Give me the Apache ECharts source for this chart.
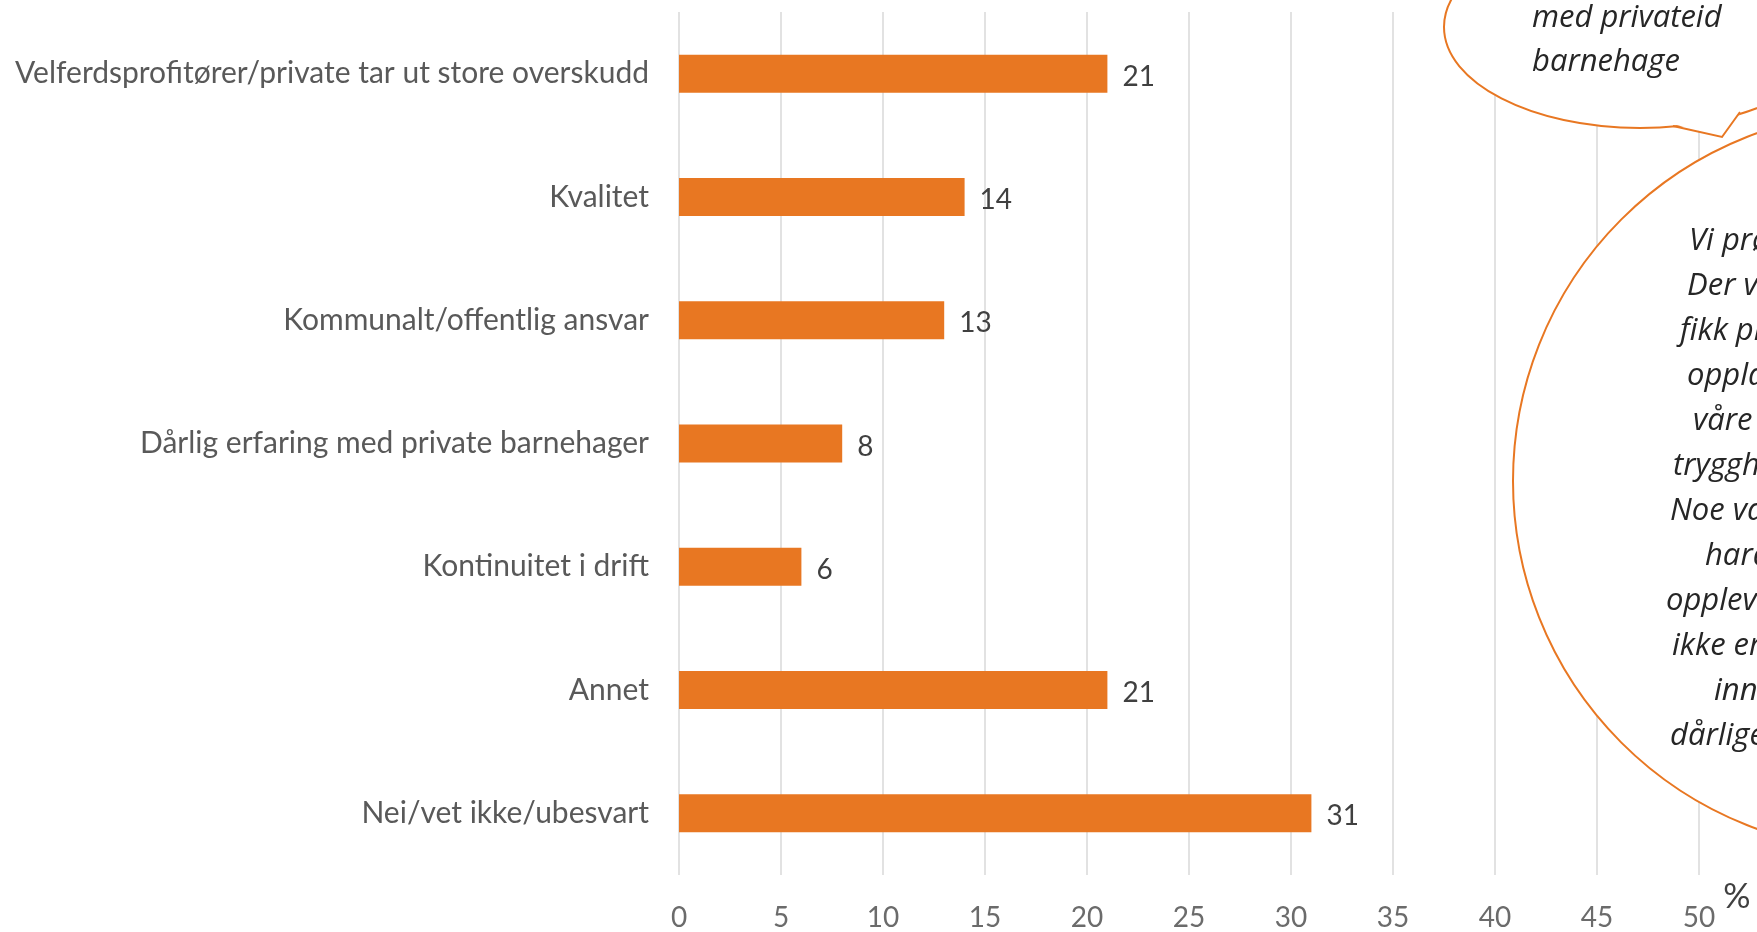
<!DOCTYPE html>
<html>
<head>
<meta charset="utf-8">
<script src="https://cdn.jsdelivr.net/npm/echarts@6/dist/echarts.min.js"></script>
<style>
  html, body { margin: 0; padding: 0; background: #fff; }
  #chart { width: 1757px; height: 932px; }
</style>
</head>
<body>
<div id="chart"></div>
<script>
// data
const categories = [
  'Velferdsprofitører/private tar ut store overskudd',
  'Kvalitet',
  'Kommunalt/offentlig ansvar',
  'Dårlig erfaring med private barnehager',
  'Kontinuitet i drift',
  'Annet',
  'Nei/vet ikke/ubesvart'
];
const values = [21, 14, 13, 8, 6, 21, 31];
const axisMax = 50;
const axisStep = 5;
const unitLabel = '%';

// callout texts (cut off by the edge of the picture)
const topBubbleLines = ['med privateid', 'barnehage'];
const bigBubbleLines = [
  'Vi prøvde privat', 'Der var det', 'fikk plass', 'opplæring', 'våre barn',
  'trygghet', 'Noe var', 'hardt', 'opplevd', 'ikke er', 'innom', 'dårlige'
];

const orange = '#E87722';
const font = 'Lato';
const bubbleFont = '"Open Sans"';

const chart = echarts.init(document.getElementById('chart'));

// bubble graphics
const bubbleText = (text, x, baseline) => ({
  type: 'text',
  x: x,
  y: baseline - 10,
  style: {
    text: text,
    fill: '#262626',
    fontFamily: bubbleFont,
    fontStyle: 'italic',
    fontSize: 31,
    textAlign: 'left',
    textVerticalAlign: 'middle'
  }
});

const bigStarts = [1689, 1687, 1680, 1687, 1693, 1673, 1670, 1705, 1666, 1672, 1714, 1670];

const graphics = [
  {
    type: 'ellipse',
    shape: {cx: 1640, cy: 27, rx: 196, ry: 101},
    style: {fill: '#fff', stroke: orange, lineWidth: 2}
  },
  {
    type: 'polygon',
    shape: {points: [[1673, 124], [1722, 137], [1741, 112], [1741, 106], [1700, 118], [1673, 121]]},
    style: {fill: '#fff'}
  },
  {
    type: 'polyline',
    shape: {points: [[1673, 126], [1722, 137], [1740, 112]]},
    style: {fill: null, stroke: orange, lineWidth: 2}
  },
  {
    type: 'circle',
    shape: {cx: 1883, cy: 481, r: 370},
    style: {fill: '#fff', stroke: orange, lineWidth: 2}
  }
];
topBubbleLines.forEach((t, i) => graphics.push(bubbleText(t, 1532, 28 + i * 44)));
bigBubbleLines.forEach((t, i) => graphics.push(bubbleText(t, bigStarts[i], 251 + i * 45)));
graphics.push({
  type: 'text',
  x: 1737,
  y: 897,
  style: {
    text: unitLabel,
    fill: '#404040',
    fontFamily: font,
    fontSize: 34,
    textAlign: 'center',
    textVerticalAlign: 'middle'
  }
});
graphics.forEach(g => { g.z = 100; });

chart.setOption({
  animation: false,
  textStyle: {fontFamily: font},
  grid: {left: 679, right: 58, top: 12, bottom: 52, containLabel: false},
  xAxis: {
    type: 'value',
    min: 0,
    max: axisMax,
    interval: axisStep,
    axisLine: {show: false},
    axisTick: {show: false},
    splitLine: {show: true, lineStyle: {color: '#d9d9d9', width: 1.5}},
    axisLabel: {color: '#6b6b6b', fontSize: 28, margin: 29, fontFamily: font}
  },
  yAxis: {
    type: 'category',
    data: categories,
    inverse: true,
    axisLine: {show: false},
    axisTick: {show: false},
    axisLabel: {color: '#595959', fontSize: 30, margin: 30, fontFamily: font}
  },
  series: [{
    type: 'bar',
    data: values,
    barWidth: 38,
    itemStyle: {color: orange},
    label: {
      show: true,
      position: 'right',
      distance: 15,
      color: '#404040',
      fontSize: 28,
      fontFamily: font,
      offset: [0, 3]
    }
  }],
  graphic: {elements: graphics}
});
</script>
</body>
</html>
